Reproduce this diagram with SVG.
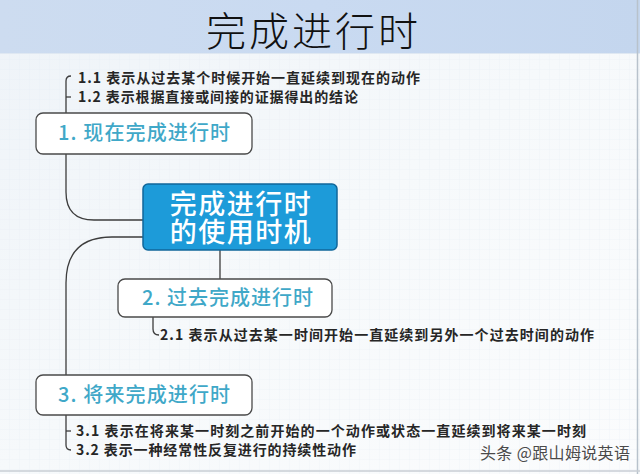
<svg xmlns="http://www.w3.org/2000/svg" width="640" height="474" viewBox="0 0 640 474">
<defs>
<linearGradient id="bg" x1="0" y1="0" x2="1" y2="1">
<stop offset="0" stop-color="#eef3f8"/>
<stop offset="0.5" stop-color="#f6f9fb"/>
<stop offset="1" stop-color="#fbfcfd"/>
</linearGradient>
<linearGradient id="band" x1="0" y1="0" x2="1" y2="0">
<stop offset="0" stop-color="#cddcf0"/>
<stop offset="0.5" stop-color="#c9daf1"/>
<stop offset="1" stop-color="#c4d6ee"/>
</linearGradient>
<pattern id="grid" width="10" height="10" patternUnits="userSpaceOnUse">
<path d="M10 0V10M0 10H10" fill="none" stroke="#e3eaf1" stroke-width="0.6"/>
</pattern>
<style>
.conn{fill:none;stroke:#3d3d3d;stroke-width:1.3}
.box{fill:#ffffff;stroke:#4a4a4a;stroke-width:1.3}
.lbl{font-family:"Noto Sans CJK SC","Noto Sans",sans-serif;font-size:20px;font-weight:500;fill:#3fa8c8}
.sub{font-family:"Noto Sans CJK SC","Noto Sans",sans-serif;font-size:14px;font-weight:700;fill:#262626}
.ctr{font-family:"Noto Sans CJK SC","Noto Sans",sans-serif;font-size:27px;font-weight:500;fill:#ffffff;letter-spacing:1.5px}
</style>
</defs>
<rect width="640" height="474" fill="url(#bg)"/>
<rect x="0" y="53" width="640" height="421" fill="url(#grid)" opacity="0.6"/>
<rect x="0" y="0" width="640" height="53" fill="url(#band)"/>
<line x1="0" y1="53.5" x2="640" y2="53.5" stroke="#dfe8f2" stroke-width="1"/>
<line x1="637.5" y1="0" x2="637.5" y2="474" stroke="#b8c2cc" stroke-width="1.5"/>
<line x1="0" y1="471" x2="640" y2="471" stroke="#c9ced4" stroke-width="1.5"/>
<text x="312" y="46" text-anchor="middle" font-family="'Noto Sans CJK SC','Noto Sans',sans-serif" font-size="40" font-weight="300" fill="#111111" textLength="212">完成进行时</text>

<g id="connectors">
<path class="conn" d="M71,76 Q66,76 66,81 V113"/>
<path class="conn" d="M66,97 H71"/>
<path class="conn" d="M66,154 V192 Q66,220 94,220 H143"/>
<path class="conn" d="M143,237 H112 Q66,237 66,283 V375"/>
<path class="conn" d="M220,250 V279"/>
<path class="conn" d="M153,317 V329 Q153,335 159,335"/>
<path class="conn" d="M66,415 V445 Q66,450 71,450"/>
<path class="conn" d="M66,431 H71"/>
</g>

<g id="item1-1"><text class="sub" x="78" y="83" textLength="342">1.1 表示从过去某个时候开始一直延续到现在的动作</text></g>
<g id="item1-2"><text class="sub" x="78" y="102" textLength="280">1.2 表示根据直接或间接的证据得出的结论</text></g>

<g id="node1">
<rect class="box" x="36" y="113" width="216" height="41" rx="7"/>
<text class="lbl" x="58" y="140" textLength="172">1. 现在完成进行时</text>
</g>

<g id="center">
<rect x="143" y="184" width="194" height="66" rx="5" fill="#1d9bd9" stroke="#11679a" stroke-width="1.5"/>
<text class="ctr" text-anchor="middle"><tspan x="241" y="214">完成进行时</tspan><tspan x="241" y="242">的使用时机</tspan></text>
</g>

<g id="node2">
<rect class="box" x="118" y="279" width="214" height="38" rx="7"/>
<text class="lbl" x="142" y="305" textLength="171">2. 过去完成进行时</text>
</g>
<g id="item2-1"><text class="sub" x="160" y="340" textLength="434">2.1 表示从过去某一时间开始一直延续到另外一个过去时间的动作</text></g>

<g id="node3">
<rect class="box" x="36" y="375" width="216" height="40" rx="7"/>
<text class="lbl" x="58" y="402" textLength="172">3. 将来完成进行时</text>
</g>
<g id="item3-1"><text class="sub" x="76" y="436" textLength="510">3.1 表示在将来某一时刻之前开始的一个动作或状态一直延续到将来某一时刻</text></g>
<g id="item3-2"><text class="sub" x="76" y="455" textLength="280">3.2 表示一种经常性反复进行的持续性动作</text></g>

<text x="480" y="459" font-family="'Noto Sans CJK SC','Noto Sans',sans-serif" font-size="16" fill="#4a4a4a" stroke="#ffffff" stroke-width="0.6" paint-order="stroke" textLength="150">头条 @跟山姆说英语</text>
</svg>
